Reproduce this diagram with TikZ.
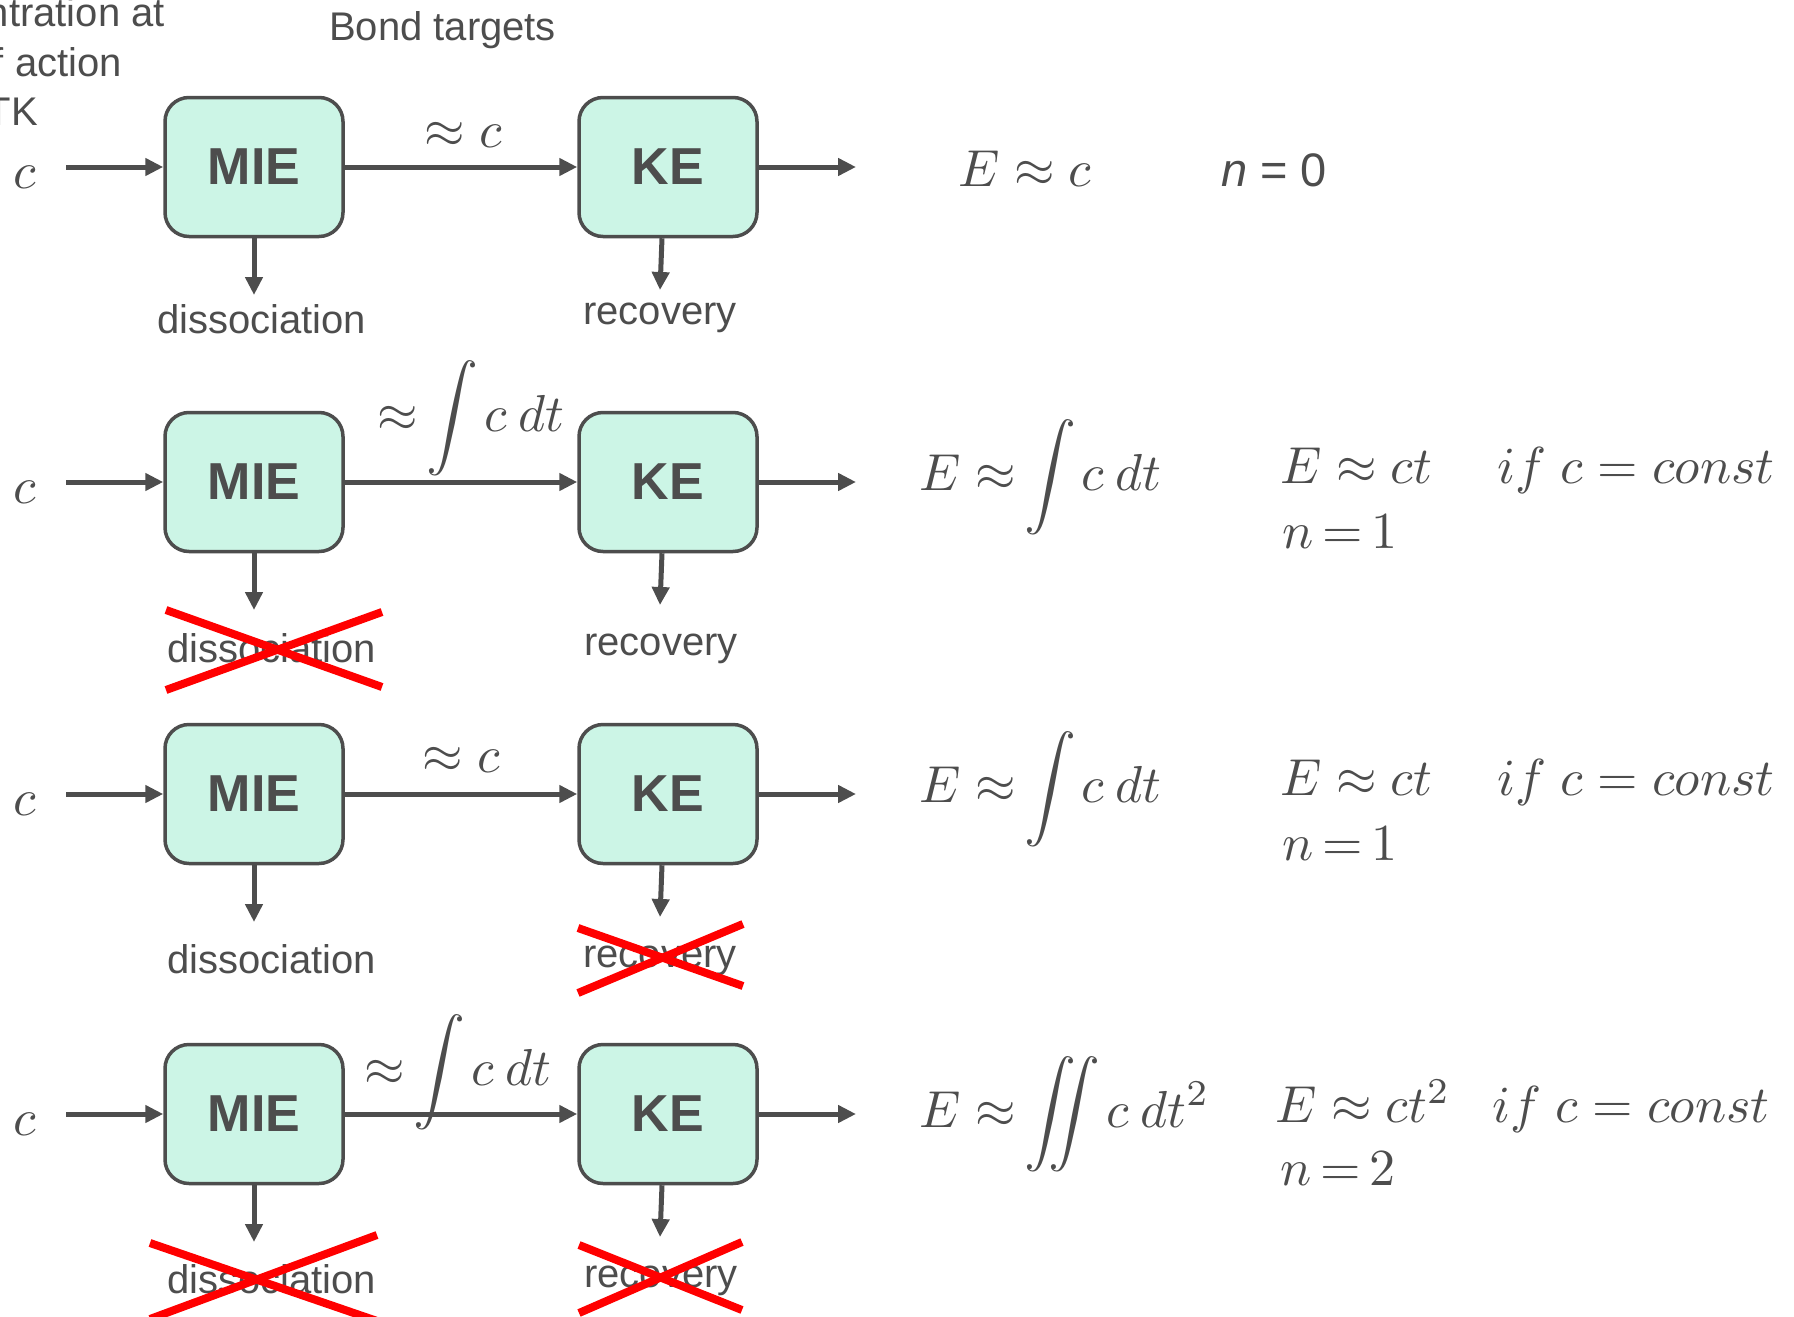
\documentclass[tikz,border=0pt]{standalone}
\usepackage{amsmath}
\usepackage{graphicx}
\usepackage[no-math]{fontspec}
\setmainfont{Liberation Sans}
\usetikzlibrary{arrows.meta}
\definecolor{ink}{RGB}{77,77,77}
\definecolor{mint}{RGB}{204,245,230}
\newcommand\lblfont{\fontsize{40}{48}\selectfont}
\newcommand\boxfont{\fontsize{52}{60}\selectfont\bfseries}
\newcommand\mm[1]{\scalebox{5.2}{$#1$}}
\newcommand\cdtint{\mkern-2mu\int\mkern-1mu c\mkern4mu dt}
\begin{document}
\begin{tikzpicture}[x=1pt,y=-1pt,
  blk/.style={draw=ink, fill=mint, line width=3.5pt, rounded corners=24pt,
    minimum width=178pt, minimum height=139pt, inner sep=0pt, text=ink, font=\boxfont},
  lbl/.style={inner sep=0pt, text=ink, font=\lblfont},
  mth/.style={inner sep=0pt, text=ink, font=\normalsize},
  arr/.style={draw=ink, line width=5pt, -{Triangle[length=18pt,width=17pt]}},
  redx/.style={draw=red, line width=8pt}]
\useasboundingbox (0,0) rectangle (1794,1317);

% top texts
\node[lbl, anchor=base east] (t1) at (165,27) {ntration at};
\node[lbl, anchor=base east] (t2) at (122,76) {f action};
\node[lbl, anchor=base east] (t3) at (38,125) {TK};
\node[lbl, anchor=base west] (bt) at (329,40) {Bond targets};

% rows
\foreach \i/\y in {1/167,2/482,3/794,4/1114}{
  \node[blk] (mie\i) at (254,\y) {MIE};
  \node[blk] (ke\i) at (668,\y) {KE};
  \node[mth, anchor=base west] (c\i) at (13,\y+21) {\mm{c}};
  \coordinate (in\i) at (66,\y);
  \coordinate (out\i) at (856,\y);
  \coordinate (dt\i) at (254,\y+128);
  \coordinate (rt\i) at (660,\y+123);
  \draw[arr] (in\i) -- (mie\i);
  \draw[arr] (mie\i) -- (ke\i);
  \draw[arr] (ke\i) -- (out\i);
  \draw[arr] (mie\i.south) -- (dt\i);
  \draw[arr] ([xshift=-6pt]ke\i.south) -- (rt\i);
}

% labels below
\node[lbl, anchor=base west] (dis1) at (157,333) {dissociation};
\node[lbl, anchor=base west] (dis2) at (167,662) {dissociation};
\node[lbl, anchor=base west] (dis3) at (167,973) {dissociation};
\node[lbl, anchor=base west] (dis4) at (167,1293) {dissociation};
\node[lbl, anchor=base west] (rec1) at (583,324) {recovery};
\node[lbl, anchor=base west] (rec2) at (584,655) {recovery};
\node[lbl, anchor=base west] (rec3) at (583,967) {recovery};
\node[lbl, anchor=base west] (rec4) at (584,1287) {recovery};

% connector labels
\node[mth, anchor=base west] (l1) at (424,147) {\mm{\approx c}};
\node[mth, anchor=base west] (l2) at (377,431) {\mm{\displaystyle \approx \cdtint}};
\node[mth, anchor=base west] (l3) at (422,772) {\mm{\approx c}};
\node[mth, anchor=base west] (l4) at (364,1085) {\mm{\displaystyle \approx \cdtint}};

% right side formulas
\node[mth, anchor=base west] (e1) at (958,186) {\mm{E \approx c}};
\node[lbl, font=\fontsize{47}{54}\selectfont, anchor=base west] (n1) at (1221,186) {\textit{n} = 0};
\node[mth, anchor=base west] (e2) at (919,490) {\mm{\displaystyle E \approx \cdtint}};
\node[mth, anchor=base west] (f2) at (1280,483) {\mm{E \approx ct\hspace{1.25em} if\; c = const}};
\node[mth, anchor=base west] (n2) at (1282,548) {\mm{n\mkern3mu{=}\mkern3mu 1}};
\node[mth, anchor=base west] (e3) at (919,802) {\mm{\displaystyle E \approx \cdtint}};
\node[mth, anchor=base west] (f3) at (1280,795) {\mm{E \approx ct\hspace{1.25em} if\; c = const}};
\node[mth, anchor=base west] (n3) at (1282,860) {\mm{n\mkern3mu{=}\mkern3mu 1}};
\node[mth, anchor=base west] (e4) at (919,1127) {\mm{\displaystyle E \approx \mkern-2mu\int\mkern-12.5mu\int\mkern-1mu c\mkern4mu dt^2}};
\node[mth, anchor=base west] (f4) at (1275,1122) {\mm{E \approx ct^2\hspace{0.8em} if\; c = const}};
\node[mth, anchor=base west] (n4) at (1280,1185) {\mm{n\mkern3mu{=}\mkern3mu 2}};

% red crosses
\draw[redx] (166,610) -- (382,687);
\draw[redx] (166,690) -- (382,612);
\draw[redx] (578,928) -- (743,986);
\draw[redx] (578,993) -- (743,924);
\draw[redx] (150,1243) -- (380,1322);
\draw[redx] (377,1235) -- (150,1319);
\draw[redx] (579,1245) -- (742,1310);
\draw[redx] (579,1313) -- (742,1242);
\end{tikzpicture}
\end{document}
